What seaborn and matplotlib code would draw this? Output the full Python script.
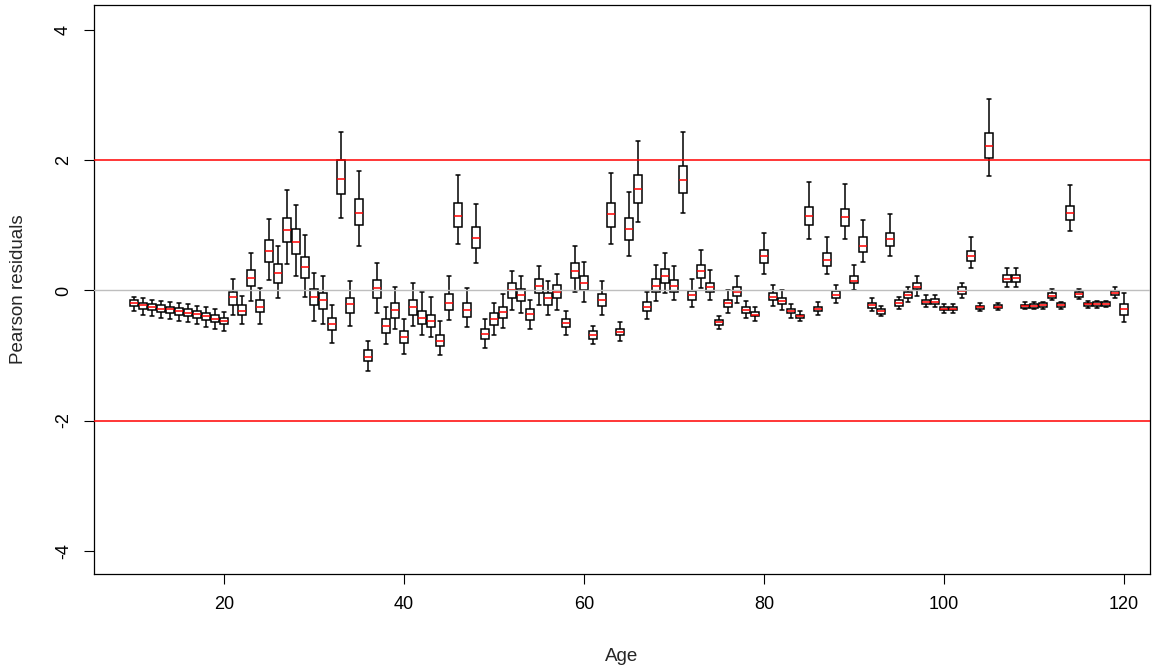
import pandas as pd
import matplotlib
matplotlib.use("Agg")
import matplotlib.pyplot as plt
import seaborn as sns

# ages 10..120, one box per age
ages = list(range(10, 121))

med = [
    -0.19, -0.23, -0.26, -0.28, -0.29, -0.31, -0.34, -0.36, -0.40, -0.44,
    -0.47, -0.10, -0.31, 0.19, -0.25, 0.60, 0.27, 0.93, 0.74, 0.36,
    -0.10, -0.14, -0.52, 1.72, -0.21, 1.19, -1.02, 0.04, -0.54, -0.30,
    -0.72, -0.26, -0.42, -0.47, -0.77, -0.19, 1.14, -0.30, 0.81, -0.67,
    -0.44, -0.33, 0.005, -0.07, -0.36, 0.07, -0.12, -0.03, -0.50, 0.30,
    0.11, -0.69, -0.14, 1.17, -0.64, 0.95, 1.56, -0.25, 0.07, 0.23,
    0.07, 1.70, -0.07, 0.30, 0.05, -0.49, -0.19, -0.02, -0.30, -0.37,
    0.53, -0.10, -0.16, -0.32, -0.40, 1.14, -0.28, 0.47, -0.07, 1.13,
    0.15, 0.68, -0.22, -0.32, 0.79, -0.19, -0.07, 0.06, -0.17, -0.17,
    -0.28, -0.28, -0.005, 0.53, -0.26, 2.215, -0.25, 0.18, 0.19, -0.24,
    -0.24, -0.22, -0.08, -0.22, 1.19, -0.06, -0.21, -0.21, -0.21, -0.04,
    -0.29]

q1 = [
    -0.246, -0.28, -0.30, -0.33, -0.35, -0.37, -0.39, -0.42, -0.46, -0.49,
    -0.52, -0.22, -0.38, 0.07, -0.33, 0.44, 0.12, 0.74, 0.56, 0.19,
    -0.23, -0.28, -0.61, 1.49, -0.34, 1.01, -1.09, -0.11, -0.65, -0.42,
    -0.81, -0.37, -0.51, -0.56, -0.86, -0.30, 0.98, -0.41, 0.66, -0.75,
    -0.53, -0.43, -0.11, -0.16, -0.45, -0.04, -0.22, -0.12, -0.56, 0.19,
    0.01, -0.74, -0.24, 0.98, -0.69, 0.78, 1.35, -0.32, -0.02, 0.12,
    -0.02, 1.50, -0.14, 0.19, -0.02, -0.53, -0.25, -0.09, -0.35, -0.40,
    0.42, -0.15, -0.21, -0.35, -0.43, 1.00, -0.32, 0.38, -0.12, 0.99,
    0.11, 0.59, -0.27, -0.36, 0.68, -0.24, -0.11, 0.015, -0.21, -0.21,
    -0.30, -0.30, -0.06, 0.46, -0.28, 2.035, -0.27, 0.13, 0.13, -0.27,
    -0.27, -0.25, -0.11, -0.26, 1.08, -0.10, -0.24, -0.24, -0.24, -0.07,
    -0.37]

q3 = [
    -0.154, -0.19, -0.21, -0.23, -0.25, -0.27, -0.29, -0.32, -0.34, -0.38,
    -0.42, -0.02, -0.23, 0.32, -0.14, 0.77, 0.41, 1.12, 0.94, 0.51,
    0.03, -0.04, -0.42, 2.00, -0.11, 1.41, -0.92, 0.16, -0.44, -0.19,
    -0.63, -0.14, -0.31, -0.37, -0.68, -0.06, 1.34, -0.19, 0.98, -0.60,
    -0.35, -0.25, 0.11, 0.02, -0.28, 0.18, -0.04, 0.08, -0.44, 0.43,
    0.22, -0.63, -0.05, 1.35, -0.60, 1.11, 1.77, -0.17, 0.17, 0.33,
    0.16, 1.91, -0.005, 0.39, 0.12, -0.46, -0.14, 0.06, -0.26, -0.33,
    0.63, -0.04, -0.12, -0.28, -0.37, 1.28, -0.25, 0.57, -0.015, 1.26,
    0.23, 0.82, -0.19, -0.29, 0.89, -0.15, -0.03, 0.11, -0.14, -0.13,
    -0.26, -0.26, 0.05, 0.61, -0.24, 2.42, -0.22, 0.24, 0.24, -0.22,
    -0.21, -0.19, -0.04, -0.19, 1.30, -0.02, -0.19, -0.18, -0.18, -0.01,
    -0.21]

lo = [
    -0.318, -0.38, -0.40, -0.42, -0.44, -0.47, -0.49, -0.52, -0.56, -0.59,
    -0.63, -0.37, -0.52, -0.16, -0.51, 0.16, -0.12, 0.40, 0.23, -0.10,
    -0.47, -0.51, -0.81, 1.11, -0.54, 0.68, -1.24, -0.34, -0.83, -0.60,
    -0.97, -0.55, -0.69, -0.72, -0.99, -0.46, 0.72, -0.56, 0.42, -0.88,
    -0.69, -0.58, -0.30, -0.35, -0.60, -0.22, -0.38, -0.30, -0.69, -0.02,
    -0.18, -0.83, -0.37, 0.72, -0.77, 0.53, 1.06, -0.44, -0.16, -0.04,
    -0.15, 1.19, -0.26, 0.04, -0.15, -0.59, -0.35, -0.19, -0.42, -0.47,
    0.26, -0.24, -0.30, -0.42, -0.47, 0.79, -0.38, 0.25, -0.19, 0.79,
    0.01, 0.44, -0.32, -0.39, 0.53, -0.29, -0.18, -0.08, -0.25, -0.25,
    -0.34, -0.34, -0.11, 0.35, -0.32, 1.755, -0.30, 0.06, 0.06, -0.29,
    -0.29, -0.28, -0.15, -0.28, 0.91, -0.13, -0.27, -0.27, -0.26, -0.11,
    -0.49]

hi = [
    -0.103, -0.12, -0.14, -0.16, -0.17, -0.19, -0.21, -0.24, -0.26, -0.29,
    -0.33, 0.17, -0.08, 0.58, 0.04, 1.10, 0.69, 1.54, 1.32, 0.85,
    0.27, 0.22, -0.23, 2.44, 0.14, 1.83, -0.78, 0.43, -0.25, 0.06,
    -0.44, 0.12, -0.03, -0.10, -0.47, 0.22, 1.78, 0.04, 1.33, -0.44,
    -0.19, -0.06, 0.30, 0.22, -0.14, 0.37, 0.15, 0.25, -0.31, 0.69,
    0.44, -0.54, 0.14, 1.80, -0.49, 1.51, 2.30, -0.02, 0.39, 0.58,
    0.38, 2.44, 0.18, 0.63, 0.32, -0.39, 0.005, 0.22, -0.16, -0.25,
    0.88, 0.09, 0.005, -0.21, -0.32, 1.67, -0.18, 0.82, 0.09, 1.64,
    0.39, 1.08, -0.12, -0.24, 1.17, -0.10, 0.06, 0.23, -0.07, -0.07,
    -0.21, -0.21, 0.12, 0.82, -0.20, 2.95, -0.19, 0.35, 0.35, -0.18,
    -0.18, -0.17, 0.02, -0.17, 1.62, 0.02, -0.16, -0.16, -0.16, 0.06,
    -0.04]

# long table: five values per age give exactly the box stats (whiskers = min/max)
rows = []
for i, a in enumerate(ages):
    for v in (lo[i], q1[i], med[i], q3[i], hi[i]):
        rows.append({"Age": a, "resid": v})
df = pd.DataFrame(rows)

sns.set_style("ticks")
plt.rcParams["font.family"] = ["Liberation Sans", "DejaVu Sans"]

fig = plt.figure(figsize=(11.63, 6.68), dpi=100)
ax = fig.add_axes([94 / 1163, 1 - 574 / 668, (1150 - 94) / 1163, (574 - 5) / 668])

sns.boxplot(data=df, x="Age", y="resid", native_scale=True, whis=(0, 100),
            width=0.8, color="white", linecolor="black", linewidth=1.1,
            showfliers=False, medianprops=dict(color="red", linewidth=1.1),
            ax=ax)

ax.axhline(0, color="#BEBEBE", linewidth=1.0, zorder=4)
ax.axhline(2, color="red", linewidth=1.1, zorder=4)
ax.axhline(-2, color="red", linewidth=1.1, zorder=4)

ax.set_xlim(5.56, 122.9)
ax.set_ylim(-4.36, 4.39)
ax.set_xticks([20, 40, 60, 80, 100, 120])
ax.set_yticks([-4, -2, 0, 2, 4])
ax.set_yticklabels(["-4", "-2", "0", "2", "4"], rotation=90, va="center")
ax.tick_params(direction="out", length=7, width=0.8, labelsize=13, pad=9, colors="black")

for s in ax.spines.values():
    s.set_visible(True)
    s.set_linewidth(0.9)
    s.set_color("black")

ax.set_xlabel("Age", fontsize=13.5, labelpad=25)
ax.set_ylabel("Pearson residuals", fontsize=13.5, labelpad=20)

fig.savefig("out.png", dpi=100)
